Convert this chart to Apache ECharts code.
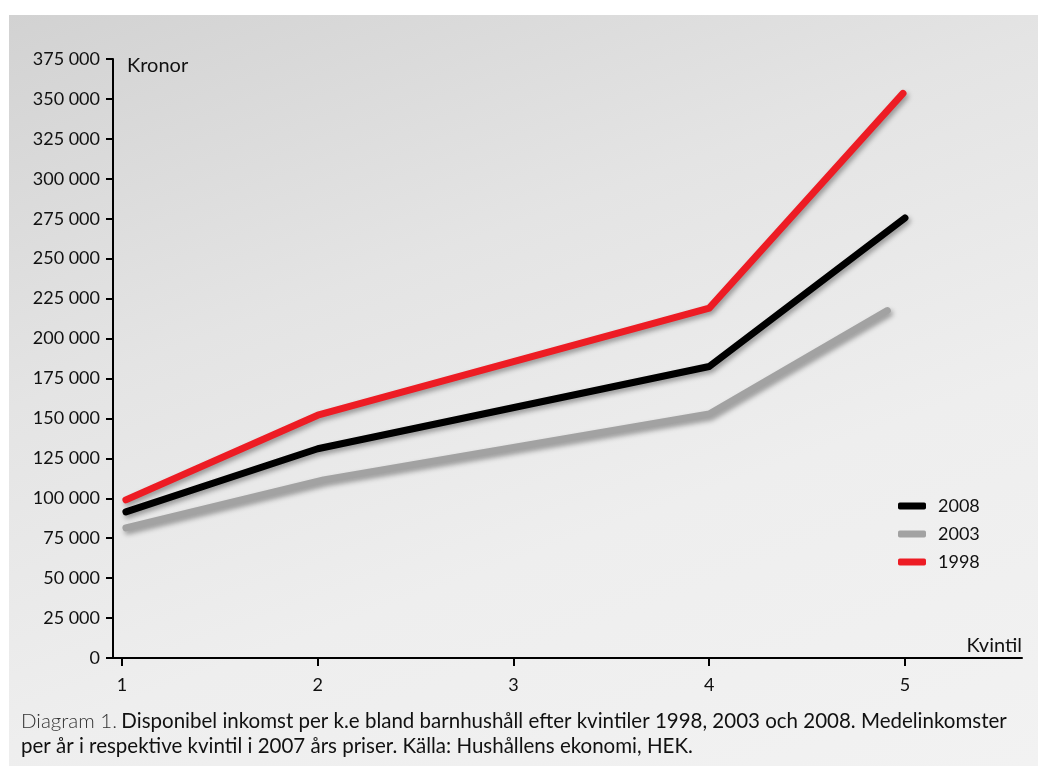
<!DOCTYPE html>
<html>
<head>
<meta charset="utf-8">
<script src="https://cdn.jsdelivr.net/npm/echarts@6/dist/echarts.min.js"></script>
<style>
html,body{margin:0;padding:0;background:#fff;}
#wrap{position:absolute;left:0;top:0;width:1038px;height:766px;background:#fff;}
#panel{position:absolute;left:9px;top:15px;width:1029px;height:751px;
background:linear-gradient(160deg,#d2d2d2 0%,#e4e4e4 35%,#eeeeee 65%,#f2f2f2 100%);}
#chart{position:absolute;left:0;top:0;width:1038px;height:766px;}
</style>
</head>
<body>
<div id="wrap"><div id="panel"></div><div id="chart"></div></div>
<script>
// Quintile positions (x) and values (kronor)
const quintileTicks = [1, 2, 3, 4, 5];
const x2008 = [1.02, 2, 4, 5];
const v2008 = [91500, 131000, 182500, 275500];
const x2003 = [1.02, 2.03, 4, 4.91];
const v2003 = [81500, 111500, 152800, 217500];
const x1998 = [1.02, 2, 4, 4.99];
const v1998 = [99000, 152000, 219000, 353500];
const yTicks = [0, 375000, 25000]; // min, max, interval

const FONT = 'Lato, "Open Sans", sans-serif';
const pair = (xs, vs) => xs.map((x, i) => [x, vs[i]]);
const shadow = {shadowColor: 'rgba(0,0,0,0.35)', shadowBlur: 5, shadowOffsetX: 2, shadowOffsetY: 3};

const chart = echarts.init(document.getElementById('chart'), null, {renderer: 'canvas'});
chart.setOption({
  backgroundColor: 'transparent',
  animation: false,
  textStyle: {fontFamily: FONT},
  title: {
    left: 16, top: 704,
    text: '{l|Diagram 1.} {n|Disponibel inkomst per k.e bland barnhushåll efter kvintiler 1998, 2003 och 2008. Medelinkomster}\n{n|per år i respektive kvintil i 2007 års priser. Källa: Hushållens ekonomi, HEK.}',
    textStyle: {
      fontFamily: FONT, lineHeight: 25,
      rich: {
        l: {fontFamily: FONT, fontSize: 20.5, fontWeight: 300, color: '#333', lineHeight: 25},
        n: {fontFamily: FONT, fontSize: 20.5, fontWeight: 400, color: '#111', lineHeight: 25}
      }
    }
  },
  legend: {
    orient: 'vertical', left: 893, top: 492,
    itemWidth: 28, itemHeight: 7, itemGap: 10,
    icon: 'roundRect',
    textStyle: {fontFamily: FONT, fontSize: 18, color: '#111', padding: [0, 0, 0, 7]},
    data: ['2008', '2003', '1998']
  },
  grid: {left: 113, right: 16, top: 59, bottom: 108, containLabel: false},
  xAxis: {
    type: 'value', min: 0.954, max: 5.598,
    name: 'Kvintil', nameLocation: 'end', nameGap: 0,
    nameTextStyle: {fontFamily: FONT, fontSize: 20, color: '#111', align: 'right', verticalAlign: 'bottom', padding: [0, 0, 2, 0]},
    axisLine: {lineStyle: {color: '#000', width: 2}},
    axisTick: {show: true, length: 8, lineStyle: {color: '#000', width: 2}, customValues: quintileTicks},
    axisLabel: {customValues: quintileTicks, fontFamily: FONT, fontSize: 18, color: '#111', margin: 18},
    splitLine: {show: false}
  },
  yAxis: {
    type: 'value', min: yTicks[0], max: yTicks[1], interval: yTicks[2],
    name: 'Kronor', nameLocation: 'end', nameGap: 0,
    nameTextStyle: {fontFamily: FONT, fontSize: 20, color: '#111', align: 'left', verticalAlign: 'top', padding: [-3, 0, 0, 14]},
    axisLine: {show: true, lineStyle: {color: '#000', width: 2}},
    axisTick: {show: true, length: 7, lineStyle: {color: '#000', width: 2}},
    axisLabel: {
      fontFamily: FONT, fontSize: 18, color: '#111', margin: 13,
      formatter: v => String(v).replace(/\B(?=(\d{3})+(?!\d))/g, ' ')
    },
    splitLine: {show: false}
  },
  series: [
    {name: '2008', type: 'line', data: pair(x2008, v2008), symbol: 'none', color: '#000000',
     lineStyle: Object.assign({width: 7, color: '#000000', cap: 'round', join: 'round'}, shadow)},
    {name: '2003', type: 'line', data: pair(x2003, v2003), symbol: 'none', color: '#a2a2a2',
     lineStyle: Object.assign({width: 7, color: '#a2a2a2', cap: 'round', join: 'round'}, shadow)},
    {name: '1998', type: 'line', data: pair(x1998, v1998), symbol: 'none', color: '#ed1c24',
     lineStyle: Object.assign({width: 7, color: '#ed1c24', cap: 'round', join: 'round'}, shadow)}
  ]
});
</script>
</body>
</html>
